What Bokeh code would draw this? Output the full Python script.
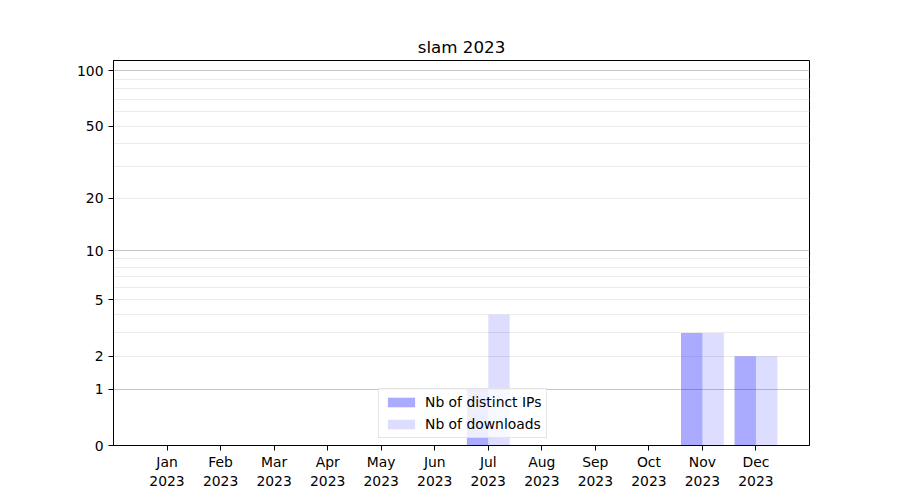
import numpy as np
from bokeh.plotting import figure
from bokeh.models import (ColumnDataSource, FixedTicker, Grid, Legend, LegendItem,
                          Range1d)
from bokeh.embed import file_html
from bokeh.resources import INLINE

months = ["Jan", "Feb", "Mar", "Apr", "May", "Jun", "Jul", "Aug", "Sep", "Oct", "Nov", "Dec"]
year = "2023"
distinct_ips = [0, 0, 0, 0, 0, 0, 1, 0, 0, 0, 3, 2]
downloads = [0, 0, 0, 0, 0, 0, 4, 0, 0, 0, 3, 2]
y_tick_values = [0, 1, 2, 5, 10, 20, 50, 100]
y_major_grid = [1, 10, 100]
y_minor_grid = [2, 3, 4, 5, 6, 7, 8, 9, 20, 30, 40, 50, 60, 70, 80, 90]
y_max = 113.4


def fwd(v):
    return np.log10(1.0 + np.asarray(v, dtype=float))


FONT = "DejaVu Sans"
xs = np.arange(len(months))

src = ColumnDataSource(dict(
    x_ip=xs - 0.2, x_dl=xs + 0.2,
    ip=fwd(distinct_ips), dl=fwd(downloads),
))

p = figure(frame_width=696, frame_height=385, output_backend="svg", toolbar_location=None,
           x_range=Range1d(-1, 12), y_range=Range1d(0, float(fwd(y_max))),
           title="slam 2023")
p.min_border_left = 113
p.min_border_right = 81
p.min_border_top = 60
p.min_border_bottom = 45
p.background_fill_color = "white"
p.border_fill_color = "white"
p.outline_line_color = "black"
p.outline_line_width = 1

p.title.align = "center"
p.title.text_font = FONT
p.title.text_font_size = "16.7px"
p.title.text_font_style = "normal"
p.title.text_color = "black"
p.title.standoff = 7

p.xgrid.visible = False
p.ygrid.visible = False

minor_grid = Grid(dimension=1, ticker=FixedTicker(ticks=list(fwd(y_minor_grid))),
                  grid_line_color="#ebebeb", grid_line_width=1)
major_grid = Grid(dimension=1, ticker=FixedTicker(ticks=list(fwd(y_major_grid))),
                  grid_line_color="#c8c8c8", grid_line_width=1)
p.add_layout(minor_grid)
p.add_layout(major_grid)

r1 = p.vbar(x="x_ip", top="ip", bottom=0, width=0.4, source=src,
            fill_color="blue", fill_alpha=0.333, line_color=None)
r2 = p.vbar(x="x_dl", top="dl", bottom=0, width=0.4, source=src,
            fill_color="blue", fill_alpha=0.133, line_color=None)

# x axis
p.xaxis.ticker = FixedTicker(ticks=list(xs))
p.xaxis.major_label_overrides = {int(i): f"{m}\n{year}" for i, m in zip(xs, months)}
# y axis
p.yaxis.ticker = FixedTicker(ticks=list(fwd(y_tick_values)))
p.yaxis.major_label_overrides = {float(t): str(v) for t, v in zip(fwd(y_tick_values), y_tick_values)}

for ax in (p.xaxis[0], p.yaxis[0]):
    ax.axis_line_color = "black"
    ax.major_tick_line_color = "black"
    ax.major_tick_in = 0
    ax.major_tick_out = 5
    ax.minor_tick_line_color = None
    ax.major_label_text_font = FONT
    ax.major_label_text_font_size = "13.9px"
    ax.major_label_text_color = "black"
    ax.major_label_standoff = 5
p.xaxis.major_label_standoff = 3

legend = Legend(items=[LegendItem(label="Nb of distinct IPs", renderers=[r1]),
                       LegendItem(label="Nb of downloads", renderers=[r2])],
                location=(265, 7))
legend.label_text_font = FONT
legend.label_text_font_size = "13.9px"
legend.label_text_color = "black"
legend.glyph_width = 34
legend.glyph_height = 12
legend.label_height = 14
legend.spacing = 6
legend.padding = 5
legend.margin = 0
legend.label_standoff = 7
legend.border_line_color = "#cccccc"
legend.background_fill_alpha = 0.8
p.add_layout(legend)

open("out.html", "w").write(file_html(p, INLINE))
